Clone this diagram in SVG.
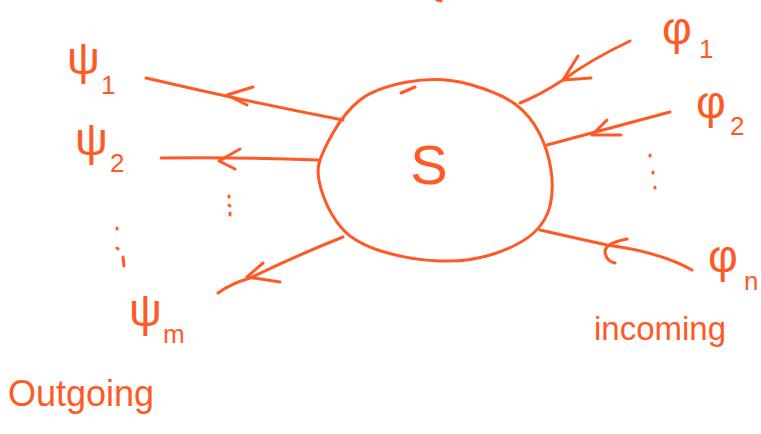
<svg xmlns="http://www.w3.org/2000/svg" width="761" height="434" viewBox="0 0 761 434">
<style>
.s{fill:none;stroke:#ff5a26;stroke-width:3;stroke-linecap:round;stroke-linejoin:round}
.t{fill:#ff5a26;font-family:"Liberation Sans","DejaVu Sans",sans-serif}
.g{font-size:46px}
.sub{font-size:26px}
.w{font-size:36px}
</style>
<rect width="761" height="434" fill="#ffffff"/>
<g id="system">
<path class="s" d="M360,100 Q375,88 407.5,82 Q440,76 470,84.5 Q500,93 515,104 Q530,115 539,132.5 Q548,150 551,170 Q554,190 550,206 Q546,222 533,233.5 Q520,245 495,253.5 Q470,262 440,261 Q410,260 382.5,251.5 Q355,243 342.5,229 Q330,215 323,195 Q316,175 319,163.5 Q322,152 333.5,132 Q345,112 360,100 Z"/>
<path class="s" d="M401,93 L415,87"/>
<text class="t" x="429" y="184" font-size="56" text-anchor="middle">S</text>
</g>
<g id="connectors">
<path class="s" d="M146,78 Q240,100 343,120"/>
<path class="s" d="M253,87 L227,95 L247,105"/>
<path class="s" d="M161,158 Q240,157 318,160"/>
<path class="s" d="M240,149 L219,161 L235,169"/>
<path class="s" d="M343,237 Q300,254 250,278 Q230,284 218,293"/>
<path class="s" d="M263,263 L247,277 L280,282"/>
<path class="s" d="M630,41 Q590,60 563,80 Q540,95 520,103"/>
<path class="s" d="M578,56 L563,80 L591,78"/>
<path class="s" d="M670,112 Q610,128 547,145"/>
<path class="s" d="M607,120 L592,135 L621,135"/>
<path class="s" d="M540,230 Q575,238 607,245 Q660,252 692,270"/>
<path class="s" d="M627,239 Q605,243 605,252 Q606,261 615,263"/>
</g>
<g id="outgoing">
<text class="t g" x="67" y="74">ψ</text><text class="t sub" x="101" y="94">1</text>
<text class="t g" x="75" y="155">ψ</text><text class="t sub" x="110" y="172">2</text>
<text class="t g" x="129" y="326">ψ</text><text class="t sub" x="163" y="343">m</text>
<path class="s" d="M229,196 L229,197 M229,205 L230,206 M230,213 L230,215"/>
<path class="s" d="M117,228 L117,229 M117,248 L118,249 M123,257 L124,266"/>
<text class="t w" x="8" y="406">Outgoing</text>
</g>
<g id="incoming">
<text class="t g" x="662" y="44">φ</text><text class="t sub" x="699" y="58">1</text>
<text class="t g" x="696" y="118">φ</text><text class="t sub" x="730" y="135">2</text>
<text class="t g" x="708" y="272">φ</text><text class="t sub" x="744" y="290">n</text>
<path class="s" d="M650,155 L650,156 M653,172 L653,173 M655,187 L655,188"/>
<text class="t" x="594" y="340" font-size="33">incoming</text>
</g>
<path class="s" d="M437,0 L441,1"/>
</svg>
